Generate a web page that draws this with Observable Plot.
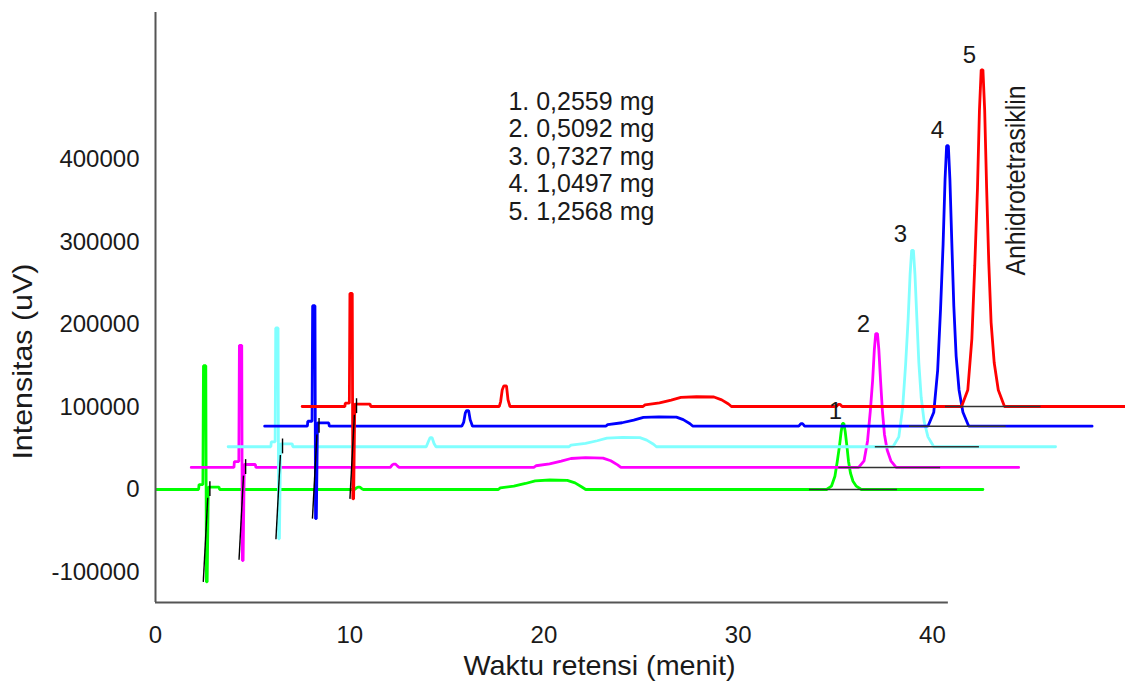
<!DOCTYPE html>
<html>
<head>
<meta charset="utf-8">
<script src="https://cdn.jsdelivr.net/npm/d3@7"></script>
<script src="https://cdn.jsdelivr.net/npm/@observablehq/plot@0.6"></script>
<style>
  html, body { margin: 0; padding: 0; background: #ffffff; }
  #chart { width: 1125px; height: 687px; }
</style>
</head>
<body>
<div id="chart"></div>
<script>
// ---------------- DATA ----------------
const seriesNames = ["1", "2", "3", "4", "5"];
const seriesColors = ["#00ff00", "#ff00ff", "#80ffff", "#0000ff", "#ff0000"];
const amounts = ["1. 0,2559 mg", "2. 0,5092 mg", "3. 0,7327 mg", "4. 1,0497 mg", "5. 1,2568 mg"];
const compoundName = "Anhidrotetrasiklin";
const xTitle = "Waktu retensi (menit)";
const yTitle = "Intensitas (uV)";
const xTicks = [0, 10, 20, 30, 40];
const yTicks = [-100000, 0, 100000, 200000, 300000, 400000];

// waterfall offsets of each chromatogram (minutes, uV)
const timeShift = [0, 1.84, 3.74, 5.62, 7.55];
const intensityShift = [0, 26800, 51800, 76700, 100600];

// integration baseline of the main peak (local minutes)
const integStart = [33.67, 33.34, 33.32, 33.2, 33.12];
const integEnd = [38.2, 38.58, 38.68, 38.17, 38.04];

// solvent-front event marker (local minutes, uV)
const markerUpper = [[2.8, 10000], [2.8, -8000]];
const markerLower = [[2.69, -10000], [2.46, -112000]];

// chromatograms, [time (min), intensity (uV)] in each run's own frame
const trace1 = [
  [0, 0], [2.22, 0], [2.24, 6000], [2.44, 6000], [2.47, 150000], [2.59, 150000], [2.62, -112000], [2.66, -112000],
  [2.72, 3000], [3.27, 3000], [3.3, 0],
  [10.25, 0], [10.35, 2000], [10.42, 2800], [10.52, 2800], [10.62, 1000], [10.7, 0],
  [17.65, 0], [17.75, 2000], [18.45, 4000], [19.05, 7300], [19.55, 10500], [20.3, 11500], [21.2, 11000], [21.6, 8000], [21.95, 3000], [22.15, 0],
  [34.55, 0], [34.8, 4000], [34.98, 16000], [35.1, 34000], [35.21, 52000], [35.3, 70000], [35.37, 80000], [35.44, 80000],
  [35.51, 70000], [35.6, 52000], [35.68, 34000], [35.78, 20000], [35.91, 10000], [36.08, 4000], [36.34, 0],
  [42.6, 0]
];
const trace2 = [
  [0, 0], [2.2, 0], [2.22, 7000], [2.45, 7000], [2.48, 148000], [2.6, 148000], [2.63, -113000], [2.67, -113000],
  [2.73, 3500], [3.3, 3500], [3.33, 0],
  [10.25, 0], [10.35, 3000], [10.42, 4000], [10.52, 4000], [10.62, 1500], [10.7, 0],
  [17.64, 0], [17.75, 2000], [18.45, 4200], [19.05, 7500], [19.55, 10800], [20.3, 11800], [21.2, 11300], [21.6, 8000], [21.95, 3000], [22.12, 0],
  [34.36, 0], [34.64, 8000], [34.82, 32000], [34.96, 68000], [35.08, 105000], [35.17, 143000], [35.24, 162000], [35.33, 162000],
  [35.4, 143000], [35.49, 105000], [35.58, 70000], [35.69, 40000], [35.83, 21000], [36.02, 8000], [36.29, 0],
  [42.6, 0]
];
const trace3 = [
  [0, 0], [2.2, 0], [2.22, 6000], [2.42, 6000], [2.45, 144000], [2.57, 144000], [2.6, -111500], [2.64, -111500],
  [2.7, 3500], [3.3, 3500], [3.33, 0],
  [10.2, 0], [10.32, 7000], [10.4, 11000], [10.5, 11000], [10.6, 4000], [10.7, 0],
  [17.55, 0], [17.65, 2000], [18.4, 4000], [19.0, 7300], [19.5, 10500], [20.3, 11300], [21.2, 11000], [21.55, 8000], [21.9, 3000], [22.05, 0],
  [34.23, 0], [34.53, 12000], [34.73, 48000], [34.88, 100000], [35.01, 155000], [35.11, 209000], [35.19, 238000], [35.28, 238000],
  [35.36, 209000], [35.46, 155000], [35.56, 102000], [35.68, 60000], [35.83, 31000], [36.03, 12000], [36.33, 0],
  [42.6, 0]
];
const trace4 = [
  [0, 0], [2.2, 0], [2.22, 6000], [2.44, 6000], [2.47, 146000], [2.59, 146000], [2.62, -112000], [2.66, -112000],
  [2.72, 4000], [3.3, 4000], [3.33, 0],
  [10.15, 0], [10.25, 5000], [10.33, 16000], [10.4, 19000], [10.5, 19000], [10.58, 8000], [10.7, 0],
  [17.56, 0], [17.66, 2000], [18.4, 4200], [19.0, 7500], [19.5, 10800], [20.3, 11300], [21.2, 11000], [21.55, 8000], [21.9, 3000], [22.05, 0],
  [27.5, 0], [27.6, 3000], [27.7, 3000], [27.8, 0],
  [34.15, 0], [34.45, 17000], [34.65, 68000], [34.8, 143000], [34.93, 221000], [35.03, 299000], [35.11, 340000], [35.2, 340000],
  [35.28, 299000], [35.38, 221000], [35.48, 146000], [35.6, 85000], [35.75, 44000], [35.95, 17000], [36.25, 0],
  [42.6, 0]
];
const trace5 = [
  [0, 0], [2.2, 0], [2.22, 4000], [2.43, 4000], [2.46, 137000], [2.58, 137000], [2.61, -112000], [2.65, -112000],
  [2.71, 3000], [3.5, 3000], [3.53, 0],
  [10.15, 0], [10.22, 6000], [10.3, 20000], [10.38, 25000], [10.52, 25000], [10.6, 8000], [10.7, 0],
  [17.55, 0], [17.65, 2000], [18.4, 4300], [19.0, 7800], [19.5, 11000], [20.3, 11800], [21.2, 11500], [21.6, 8000], [21.95, 3000], [22.1, 0],
  [27.5, 0], [27.6, 2500], [27.7, 2500], [27.8, 0],
  [33.95, 0], [34.27, 20000], [34.48, 82000], [34.63, 171000], [34.77, 265000], [34.87, 359000], [34.96, 408000], [35.05, 408000],
  [35.14, 359000], [35.24, 265000], [35.35, 175000], [35.47, 102000], [35.63, 53000], [35.84, 20000], [36.16, 0],
  [42.6, 0]
];
const traces = [trace1, trace2, trace3, trace4, trace5];

// ---------------- BUILD ----------------
const rows = traces.flatMap((tr, k) =>
  tr.map(([t, v]) => ({series: seriesNames[k], x: t + timeShift[k], y: v + intensityShift[k]}))
);
const integ = seriesNames.map((s, k) => ({
  x1: integStart[k] + timeShift[k], x2: integEnd[k] + timeShift[k], y: intensityShift[k]
}));
const markers = seriesNames.flatMap((s, k) => [markerUpper, markerLower].map(seg => ({
  x1: seg[0][0] + timeShift[k], y1: seg[0][1] + intensityShift[k],
  x2: seg[1][0] + timeShift[k], y2: seg[1][1] + intensityShift[k]
})));

const xDomain = [0, 49.94];
const yDomain = [-136970, 578180];
const xAxisEnd = 40.82;
const ink = "#1a1a1a";

const chart = Plot.plot({
  width: 1125,
  height: 687,
  marginLeft: 155,
  marginRight: 0,
  marginTop: 12,
  marginBottom: 85,
  style: {fontFamily: "'Liberation Sans', Arial, sans-serif", fontSize: "24px", color: ink, background: "#ffffff", overflow: "visible"},
  x: {domain: xDomain},
  y: {domain: yDomain},
  color: {domain: seriesNames, range: seriesColors},
  marks: [
    Plot.line(rows, {x: "x", y: "y", z: "series", stroke: "series", strokeWidth: 2.8, strokeLinejoin: "miter", clip: true}),
    Plot.ruleY(integ, {x1: "x1", x2: "x2", y: "y", stroke: "#333333", strokeWidth: 1.5, clip: true}),
    Plot.link(markers, {x1: "x1", y1: "y1", x2: "x2", y2: "y2", stroke: "#000000", strokeWidth: 1.4}),
    Plot.ruleX([0], {y1: yDomain[0], y2: yDomain[1], stroke: "#555555", strokeWidth: 2}),
    Plot.ruleY([yDomain[0]], {x1: 0, x2: xAxisEnd, stroke: "#555555", strokeWidth: 2}),
    Plot.axisX({ticks: xTicks, tickSize: 0, tickPadding: 23, fontSize: 24, label: null, tickFormat: d => String(d), fill: ink}),
    Plot.axisY({ticks: yTicks, tickSize: 0, tickPadding: 16, fontSize: 24, label: null, tickFormat: d => String(d), fill: ink}),
    Plot.text(amounts, {x: () => 18.17, y: (d, i) => 470000 - i * 33400, textAnchor: "start", lineAnchor: "middle", fontSize: 25, fill: ink}),
    Plot.text(seriesNames, {
      x: (d, i) => [35.01, 36.45, 38.35, 40.26, 41.9][i],
      y: (d, i) => [94500, 200000, 309000, 435000, 526000][i],
      lineAnchor: "middle", fontSize: 24, fill: ink
    }),
    Plot.text([compoundName], {x: () => 44.32, y: () => 374500, rotate: -90, lineAnchor: "middle", fontSize: 28, fill: ink}),
    Plot.text([xTitle], {x: () => 22.86, y: () => -214000, lineAnchor: "middle", fontSize: 28, fill: ink}),
    Plot.text([yTitle], {x: () => -6.8, y: () => 155000, rotate: -90, lineAnchor: "middle", fontSize: 28, fill: ink})
  ]
});
document.getElementById("chart").appendChild(chart);

// fit title lengths to the reference
const fitLengths = {[xTitle]: 272, [yTitle]: 196, [compoundName]: 190};
chart.querySelectorAll("text").forEach(t => {
  const L = fitLengths[t.textContent];
  if (L) { t.setAttribute("textLength", L); t.setAttribute("lengthAdjust", "spacingAndGlyphs"); }
});
</script>
</body>
</html>
